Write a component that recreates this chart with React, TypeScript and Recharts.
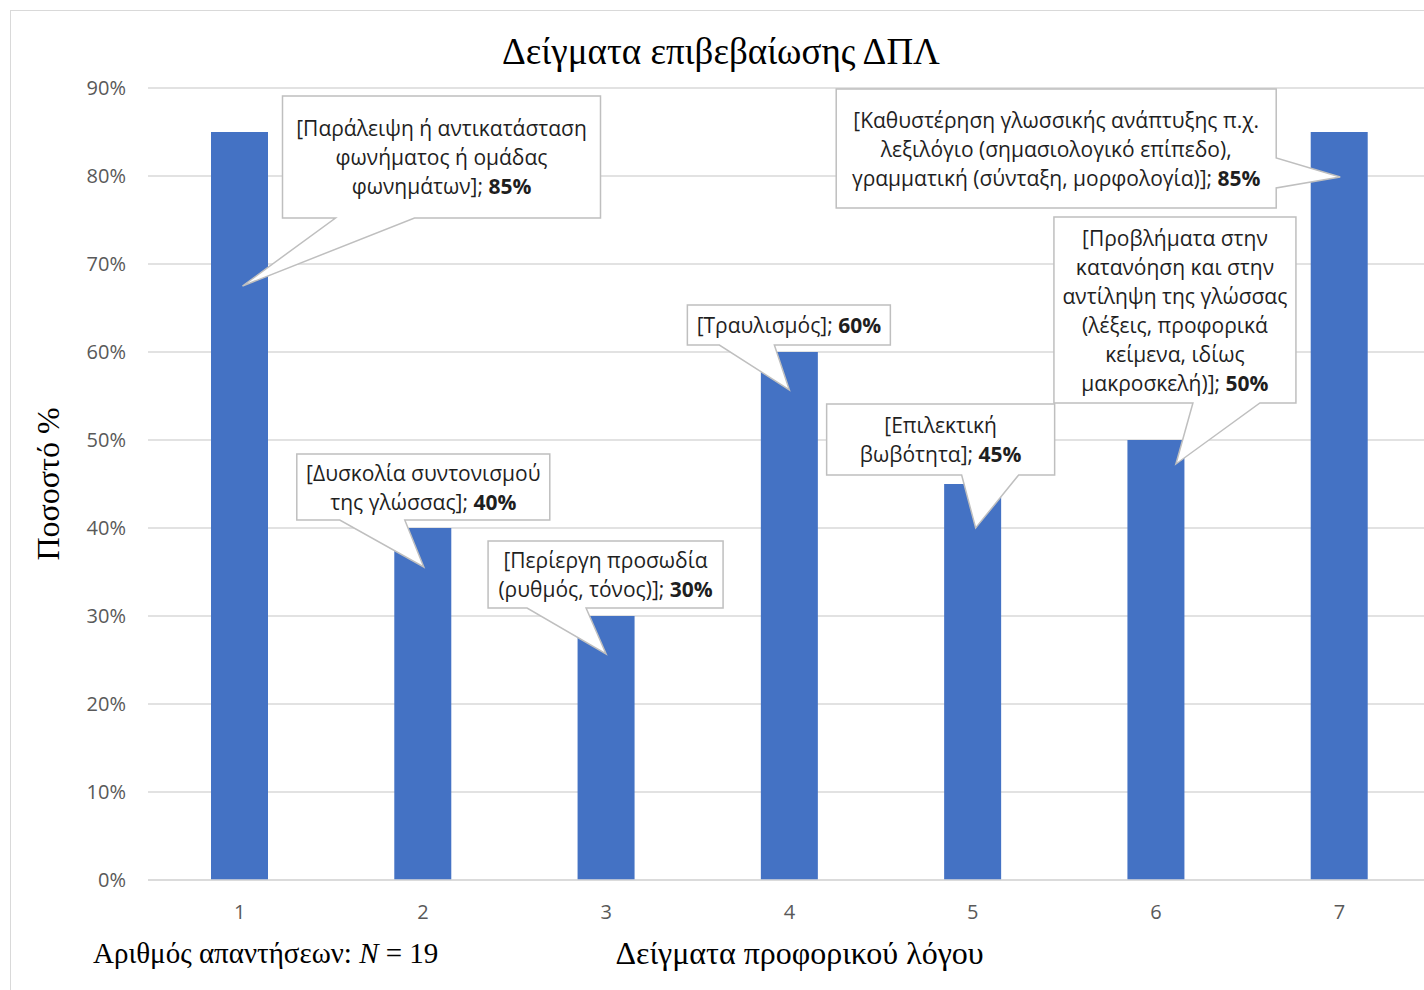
import React from "react";
import { BarChart, Bar, XAxis, YAxis, CartesianGrid, LabelList } from "recharts";

// sample numbers on the x axis
const samples = ["1", "2", "3", "4", "5", "6", "7"];

// share of confirmations per sample, in percent
const shares = [85, 40, 30, 60, 45, 50, 85];

// sample descriptions, already split into the lines shown in each callout
const sampleNames: string[][] = [
  ["Παράλειψη ή αντικατάσταση", "φωνήματος ή ομάδας", "φωνημάτων"],
  ["Δυσκολία συντονισμού", "της γλώσσας"],
  ["Περίεργη προσωδία", "(ρυθμός, τόνος)"],
  ["Τραυλισμός"],
  ["Επιλεκτική", "βωβότητα"],
  ["Προβλήματα στην", "κατανόηση και στην", "αντίληψη της γλώσσας", "(λέξεις, προφορικά", "κείμενα, ιδίως", "μακροσκελή)"],
  ["Καθυστέρηση γλωσσικής ανάπτυξης π.χ.", "λεξιλόγιο (σημασιολογικό επίπεδο),", "γραμματική (σύνταξη, μορφολογία)"],
];

const yTicks = [0, 10, 20, 30, 40, 50, 60, 70, 80, 90];

const data = samples.map((s, i) => ({ sample: s, share: shares[i] }));

// callout boxes, placed relative to the top centre of their bar
type Callout = {
  dx: number;
  dy: number;
  w: number;
  h: number;
  side: "bottom" | "right";
  base: [number, number];
  tip: [number, number];
};

const callouts: Callout[] = [
  { dx: 43, dy: -36, w: 318, h: 122, side: "bottom", base: [53, 132], tip: [3, 154] },
  { dx: -126, dy: -74, w: 253, h: 66, side: "bottom", base: [43, 108], tip: [1, 39] },
  { dx: -118, dy: -75, w: 235, h: 67, side: "bottom", base: [39, 98], tip: [0, 38] },
  { dx: -102, dy: -47, w: 203, h: 40, side: "bottom", base: [32, 87], tip: [0, 38] },
  { dx: -146, dy: -80, w: 228, h: 71, side: "bottom", base: [135, 192], tip: [3, 44] },
  { dx: -102, dy: -223, w: 242, h: 186, side: "bottom", base: [139, 206], tip: [20, 24] },
  { dx: -503, dy: -43, w: 440, h: 119, side: "right", base: [69, 99], tip: [1, 45] },
];

const sans = "'Open Sans', 'Noto Sans', sans-serif";
const serif = "'Liberation Serif', 'DejaVu Serif', serif";
const LINE = 29;

const renderCallout = (props: any) => {
  const vb = props.viewBox || props;
  const x = Number(vb.x);
  const y = Number(vb.y);
  const width = Number(vb.width);
  const index: number = props.index;
  const value = props.value;
  const c = callouts[index];
  if (!c) return null;
  const cx = x + width / 2;
  const L = cx + c.dx;
  const T = y + c.dy;
  const R = L + c.w;
  const B = T + c.h;
  const tx = cx + c.tip[0];
  const ty = y + c.tip[1];
  const d =
    c.side === "bottom"
      ? `M${L},${T} H${R} V${B} H${L + c.base[1]} L${tx},${ty} L${L + c.base[0]},${B} H${L} Z`
      : `M${L},${T} H${R} V${T + c.base[0]} L${tx},${ty} L${R},${T + c.base[1]} V${B} H${L} Z`;
  const lines = sampleNames[index];
  const midX = L + c.w / 2;
  const firstY = T + c.h / 2 - ((lines.length - 1) * LINE) / 2;
  return (
    <g key={`callout-${index}`}>
      <path d={d} fill="#ffffff" stroke="#bfbfbf" strokeWidth={1.5} />
      {lines.map((ln, k) => {
        const isFirst = k === 0;
        const isLast = k === lines.length - 1;
        return (
          <text
            key={k}
            x={midX}
            y={firstY + k * LINE}
            textAnchor="middle"
            dominantBaseline="central"
            fontFamily={sans}
            fontSize={21}
            fill="#1f1f1f"
          >
            {(isFirst ? "[" : "") + ln + (isLast ? "]; " : "")}
            {isLast && <tspan fontWeight="bold">{`${value}%`}</tspan>}
          </text>
        );
      })}
    </g>
  );
};

export default function App() {
  return (
    <div
      style={{
        position: "absolute",
        left: 0,
        top: 0,
        width: 1424,
        height: 990,
        overflow: "hidden",
        background: "#ffffff",
      }}
    >
      <div
        style={{
          position: "absolute",
          left: 10,
          top: 10,
          width: 1500,
          height: 1100,
          border: "1.5px solid #d9d9d9",
        }}
      />
      <div
        style={{
          position: "absolute",
          left: 0,
          top: 30,
          width: 1442,
          textAlign: "center",
          fontFamily: serif,
          fontSize: 37,
          lineHeight: "44px",
          color: "#000",
        }}
      >
        Δείγματα επιβεβαίωσης ΔΠΛ
      </div>
      <div
        style={{
          position: "absolute",
          left: 93,
          top: 936,
          fontFamily: serif,
          fontSize: 29,
          lineHeight: "34px",
          color: "#000",
          whiteSpace: "nowrap",
        }}
      >
        Αριθμός απαντήσεων: <i>N</i> = 19
      </div>
      <div style={{ position: "absolute", left: 0, top: 0 }}>
        <BarChart
          width={1440}
          height={990}
          data={data}
          margin={{ top: 88, right: 9, bottom: 50, left: 68 }}
        >
          <CartesianGrid vertical={false} stroke="#d9d9d9" strokeWidth={1.5} />
          <XAxis
            dataKey="sample"
            height={60}
            tickLine={false}
            tickSize={0}
            tickMargin={25}
            axisLine={{ stroke: "#d9d9d9", strokeWidth: 1.5 }}
            tick={{ fill: "#595959", fontSize: 20, fontFamily: sans }}
            label={(p: any) => {
              const vb = p.viewBox;
              return (
                <text
                  x={vb.x + vb.width / 2 + 10}
                  y={953}
                  textAnchor="middle"
                  dominantBaseline="central"
                  fontFamily={serif}
                  fontSize={32}
                  fill="#000"
                >
                  Δείγματα προφορικού λόγου
                </text>
              );
            }}
          />
          <YAxis
            width={80}
            domain={[0, 90]}
            ticks={yTicks}
            interval={0}
            tickFormatter={(v: number) => `${v}%`}
            tickLine={false}
            tickSize={0}
            tickMargin={22}
            axisLine={false}
            tick={{ fill: "#595959", fontSize: 20, fontFamily: sans }}
            label={(p: any) => {
              const vb = p.viewBox;
              const cy = vb.y + vb.height / 2;
              return (
                <text
                  x={48}
                  y={cy}
                  transform={`rotate(-90, 48, ${cy})`}
                  textAnchor="middle"
                  dominantBaseline="central"
                  fontFamily={serif}
                  fontSize={32}
                  fill="#000"
                >
                  Ποσοστό %
                </text>
              );
            }}
          />
          <Bar dataKey="share" fill="#4472c4" barSize={57} isAnimationActive={false}>
            <LabelList dataKey="share" content={renderCallout} />
          </Bar>
        </BarChart>
      </div>
    </div>
  );
}
